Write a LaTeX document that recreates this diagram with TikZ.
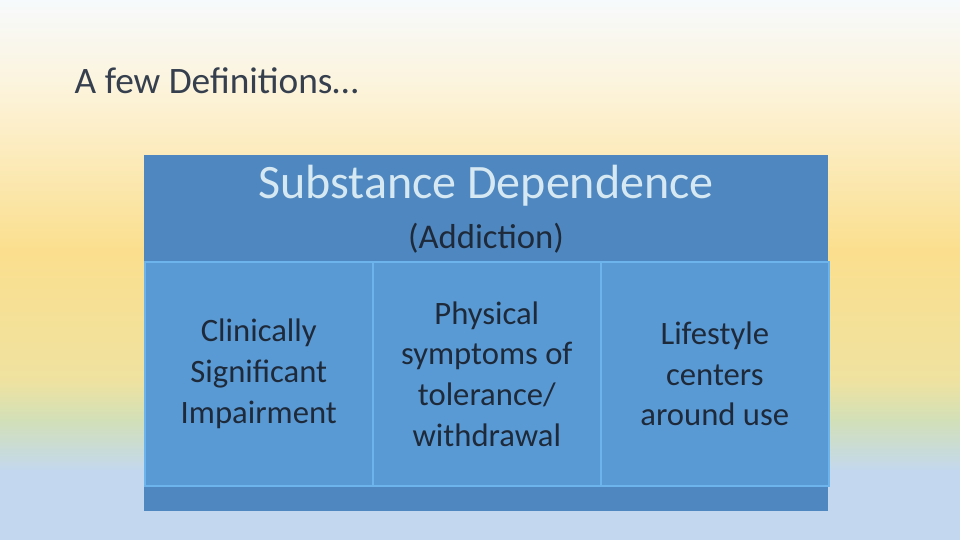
\documentclass[tikz,border=0pt]{standalone}
\usepackage{fontspec}
\setmainfont{Carlito}
\definecolor{bgA}{HTML}{C3D8EE}
\definecolor{bgB}{HTML}{D2E0B8}
\definecolor{bgC}{HTML}{EFE2A0}
\definecolor{bgD}{HTML}{FBDF8E}
\definecolor{bgE}{HTML}{FCF3DA}
\definecolor{bgF}{HTML}{F7FAFC}
\definecolor{outerbox}{HTML}{4F88C0}
\definecolor{innerbox}{HTML}{5A9AD4}
\definecolor{innerline}{HTML}{6DB4EC}
\definecolor{lighttext}{HTML}{D6E8F2}
\definecolor{darktext}{HTML}{1E2A3A}
\tikzset{cell/.style={draw=innerline,line width=1.2pt,fill=innerbox,minimum width=171pt,minimum height=168pt,inner sep=0pt,anchor=north west,align=center,font=\fontsize{24.5}{30.5}\selectfont,text=darktext}}
\begin{document}
\begin{tikzpicture}[x=0.75pt,y=-0.75pt]
\useasboundingbox (0,0) rectangle (960,540);
\shade[top color=bgF,bottom color=bgE] (0,0) rectangle (960,91);
\shade[top color=bgE,bottom color=bgD] (0,90) rectangle (960,251);
\shade[top color=bgD,bottom color=bgC] (0,250) rectangle (960,381);
\shade[top color=bgC,bottom color=bgB] (0,380) rectangle (960,421);
\shade[top color=bgB,bottom color=bgA] (0,420) rectangle (960,471);
\fill[bgA] (0,470) rectangle (960,540);
\node[anchor=west,font=\fontsize{28}{32}\selectfont,text=darktext!90] (title) at (70,81) {A few Definitions…};
\node[fill=outerbox,minimum width=513pt,minimum height=267pt,inner sep=0pt,anchor=north west] (outer) at (144,155) {};
\node[font=\fontsize{36}{40}\selectfont,text=lighttext] (sd) at (486,186) {Substance Dependence};
\node[font=\fontsize{26}{30}\selectfont,text=darktext] (add) at (486,238) {(Addiction)};
\node[cell] (c1) at (144,261) {Clinically\\Significant\\Impairment};
\node[cell] (c2) at (372,261) {Physical\\symptoms of\\tolerance/\\withdrawal};
\node[cell] (c3) at (600,261) {Lifestyle\\centers\\around use};
\end{tikzpicture}
\end{document}
